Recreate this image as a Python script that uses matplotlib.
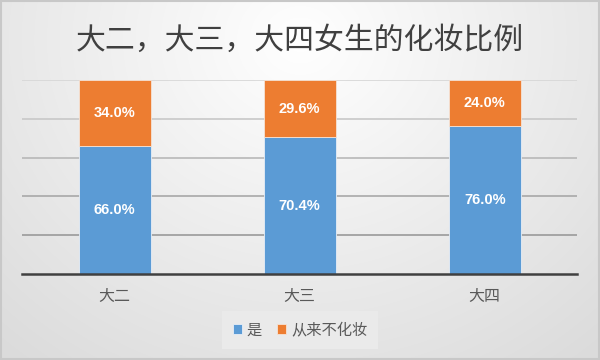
import matplotlib
matplotlib.use("Agg")
from matplotlib import pyplot as plt
import numpy as np

plt.rcParams['font.family'] = ['Noto Sans CJK SC', 'DejaVu Sans']

categories = ["大二", "大三", "大四"]
yes_pct = [66.0, 70.4, 76.0]
never_pct = [34.0, 29.6, 24.0]
series_names = ["是", "从来不化妆"]
title = "大二，大三，大四女生的化妆比例"

blue = "#5B9BD5"
orange = "#ED7D31"

fig = plt.figure(figsize=(6, 3.6), dpi=100)

# background: light radial gradient, whiter at top centre
bg = fig.add_axes([0, 0, 1, 1], zorder=-10)
yy, xx = np.mgrid[0:360, 0:600]
d = np.sqrt(((xx - 300) / 420.0) ** 2 + ((yy - 40) / 380.0) ** 2)
shade = np.clip(1.0 - 0.13 * d, 0.86, 1.0)
bg.imshow(np.dstack([shade] * 3), aspect="auto", extent=[0, 1, 0, 1])
bg.set_xlim(0, 1)
bg.set_ylim(0, 1)
bg.axis("off")
bg.add_patch(plt.Rectangle((0.001, 0.002), 0.997, 0.995, fill=False,
                           edgecolor="#c8c8c8", lw=1.5))

ax = fig.add_axes([0.037, 0.239, 0.925, 0.539])
ax.set_facecolor("none")
x = np.arange(len(categories))
w = 0.39
b1 = ax.bar(x, yes_pct, w, color=blue, edgecolor="#e8eef6", lw=0.6, zorder=3)
b2 = ax.bar(x, never_pct, w, bottom=yes_pct, color=orange, edgecolor="#f5e3d6", lw=0.6, zorder=3)

lab_font = ["Liberation Sans", "DejaVu Sans"]
for i in range(len(categories)):
    ax.text(x[i], yes_pct[i] / 2, f"{yes_pct[i]:.1f}%", ha="center", va="center",
            color="white", fontsize=10.5, fontweight="bold", family=lab_font, zorder=4)
    ax.text(x[i], yes_pct[i] + never_pct[i] / 2, f"{never_pct[i]:.1f}%", ha="center",
            va="center", color="white", fontsize=10.5, fontweight="bold",
            family=lab_font, zorder=4)

ax.set_xlim(-0.5, 2.5)
ax.set_ylim(0, 100)
ax.set_yticks([])
grid_colors = ["#9a9a9a", "#a8a8a8", "#b8b8b8", "#c8c8c8", "#d6d6d6"]
for v, c in zip([20, 40, 60, 80, 100], grid_colors):
    ax.axhline(v, color=c, lw=1.2, zorder=1)
ax.axhline(0, color="#404040", lw=1.8, zorder=5, clip_on=False)
for s in ax.spines.values():
    s.set_visible(False)
ax.set_xticks(x)
ax.set_xticklabels(categories, fontsize=11.5, color="#595959")
ax.tick_params(axis="x", length=0, pad=10)

fig.text(0.5, 0.888, title, ha="center", va="center", fontsize=21.5, color="#404040")

leg = fig.legend([b1, b2], series_names, loc="center", bbox_to_anchor=(0.5, 0.083),
                 ncol=2, frameon=True, fontsize=11, handlelength=0.6, handleheight=0.6,
                 handletextpad=0.3, columnspacing=1.0, borderpad=0.4)
leg.get_frame().set_facecolor("#ececec")
leg.get_frame().set_edgecolor("none")
leg.get_frame().set_boxstyle("square")
for t in leg.get_texts():
    t.set_color("#595959")

fig.savefig("out.png", dpi=100)
